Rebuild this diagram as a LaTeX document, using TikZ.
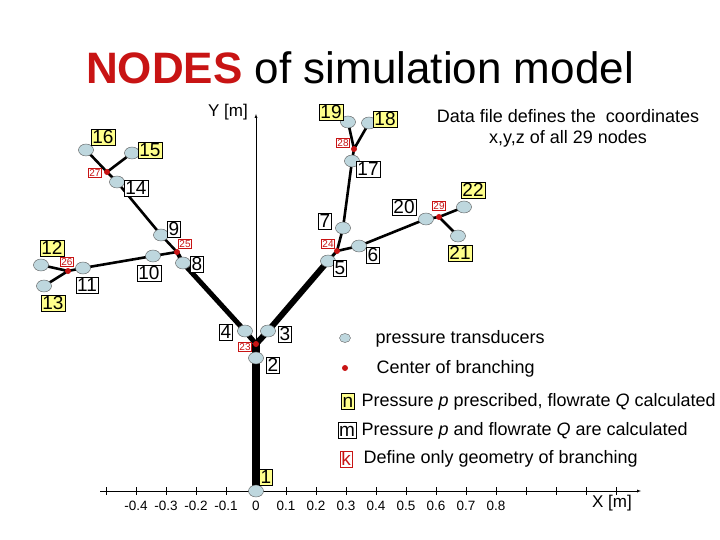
\documentclass[tikz,border=0pt]{standalone}
\usepackage{fontspec}
\setmainfont{Liberation Sans}
\usetikzlibrary{shapes.geometric}
\definecolor{tcol}{RGB}{190,215,222}
\definecolor{bred}{RGB}{200,20,20}
\definecolor{lyel}{RGB}{255,255,140}
\begin{document}
\begin{tikzpicture}[x=1pt,y=-1pt,
  tr/.style={ellipse,draw=gray!70!black,fill=tcol,minimum width=15pt,minimum height=12pt,inner sep=0pt},
  br/.style={circle,fill=bred,minimum size=6pt,inner sep=0pt},
  lm/.style={draw=black,fill=white,inner sep=1.2pt,font=\fontsize{19}{19}\selectfont,text depth=0pt,text height=13.5pt},
  ln/.style={lm,fill=lyel},
  lk/.style={draw=bred,fill=white,text=bred,inner sep=1pt,font=\fontsize{10}{10}\selectfont},
  pipe/.style={line width=#1},
  leg/.style={anchor=west,font=\fontsize{18}{18}\selectfont},
  tick/.style={font=\fontsize{13.5}{13.5}\selectfont}]
\useasboundingbox (0,0) rectangle (720,540);
% title
\node (title) at (360,68) {\fontsize{44}{44}\selectfont\textcolor{bred}{\textbf{NODES}} of simulation model};
\node (data) [align=center,font=\fontsize{18}{21}\selectfont] at (568,128) {Data file defines the\ \ coordinates\\x,y,z of all 29 nodes};
% axes
\coordinate (xs) at (100,491); \coordinate (xe) at (641,491);
\coordinate (ys) at (256,491); \coordinate (ye) at (256,114);
\draw[-latex] (xs) -- (xe);
\draw[-latex] (ys) -- (ye);
\node (ylab) [font=\fontsize{17}{17}\selectfont] at (228,112) {Y [m]};
\node (xlab) [font=\fontsize{17}{17}\selectfont] at (612,503) {X [m]};
\foreach \k/\t in {-4/-0.4,-3/-0.3,-2/-0.2,-1/-0.1,0/0,1/0.1,2/0.2,3/0.3,4/0.4,5/0.5,6/0.6,7/0.7,8/0.8}{
  \node[tick] (t\k) at (256+30*\k,506) {\t};}
\foreach \k in {-5,...,12}{
  \draw (256+30*\k,487) -- (256+30*\k,495);}
% node coordinates
\coordinate (p1) at (256,491);
\coordinate (p2) at (256,358);
\coordinate (p23) at (256,344);
\coordinate (p3) at (268,331);
\coordinate (p4) at (245,331);
\coordinate (p5) at (328,261);
\coordinate (p24) at (337,251);
\coordinate (p6) at (359,246);
\coordinate (p7) at (343,228);
\coordinate (p17) at (352,161);
\coordinate (p28) at (354,149);
\coordinate (p19) at (348,122);
\coordinate (p18) at (369,123);
\coordinate (p20) at (426,219);
\coordinate (p29) at (439,217);
\coordinate (p22) at (464,207);
\coordinate (p21) at (458,236);
\coordinate (p8) at (183,263);
\coordinate (p25) at (177,252);
\coordinate (p9) at (161,235);
\coordinate (p14) at (117,182);
\coordinate (p27) at (107,172);
\coordinate (p16) at (86,150);
\coordinate (p15) at (132,153);
\coordinate (p10) at (153,256);
\coordinate (p11) at (83,268);
\coordinate (p26) at (68,271);
\coordinate (p12) at (41,265);
\coordinate (p13) at (44,286);
% pipes
\draw[pipe=8pt] (p1) -- (p23);
\draw[pipe=6pt,line join=round] (p23) -- (p3) -- (p5);
\draw[pipe=5pt,line join=round] (p23) -- (p4) -- (p8);
\draw[pipe=4pt] (p8) -- (p25);
\draw[pipe=3pt] (p5) -- (p24);
\draw[pipe=2.6pt,line join=round] (p25) -- (p9) -- (p14) -- (p27);
\draw[pipe=2.6pt] (p27) -- (p16) (p27) -- (p15);
\draw[pipe=2.6pt,line join=round] (p25) -- (p10) -- (p11) -- (p26);
\draw[pipe=2.6pt] (p26) -- (p12) (p26) -- (p13);
\draw[pipe=2.6pt,line join=round] (p24) -- (p7) -- (p17) -- (p28);
\draw[pipe=2.6pt] (p28) -- (p19) (p28) -- (p18);
\draw[pipe=2.6pt,line join=round] (p24) -- (p6) -- (p20) -- (p29);
\draw[pipe=2.6pt] (p29) -- (p22) (p29) -- (p21);
% transducers
\foreach \n in {1,2,3,4,5,6,7,8,9,10,11,12,13,14,15,16,17,18,19,20,21,22}{
  \node[tr] (n\n) at (p\n) {};}
% branching centers
\foreach \n in {23,24,25,26,27,28,29}{
  \node[br] (n\n) at (p\n) {};}
% labels
\node[ln] (l1) at (266,477) {1};
\node[lm] (l2) at (273,365) {2};
\node[lm] (l3) at (285,334) {3};
\node[lm] (l4) at (226,332) {4};
\node[lm] (l5) at (340,268) {5};
\node[lm] (l6) at (373,255) {6};
\node[lm] (l7) at (325,221) {7};
\node[lm] (l8) at (197,264) {8};
\node[lm] (l9) at (174,229) {9};
\node[lm] (l10) at (149,273) {10};
\node[lm] (l11) at (87,285) {11};
\node[ln] (l12) at (52,248) {12};
\node[ln] (l13) at (53,303) {13};
\node[lm] (l14) at (136,188) {14};
\node[ln] (l15) at (150,150) {15};
\node[ln] (l16) at (103,137) {16};
\node[lm] (l17) at (368,169) {17};
\node[ln] (l18) at (385,119) {18};
\node[ln] (l19) at (331,112) {19};
\node[lm] (l20) at (404,207) {20};
\node[ln] (l21) at (460,253) {21};
\node[ln] (l22) at (473,190) {22};
\node[lk] (l23) at (245,347) {23};
\node[lk] (l24) at (328,244) {24};
\node[lk] (l25) at (185,244) {25};
\node[lk] (l26) at (67,262) {26};
\node[lk] (l27) at (95,173) {27};
\node[lk] (l28) at (343,143) {28};
\node[lk] (l29) at (439,206) {29};
% legend
\node[tr,minimum width=11pt,minimum height=9pt] (gt) at (345,338) {};
\node[leg] (gtt) at (372,339) {pressure transducers};
\node[br] (gb) at (345,368) {};
\node[leg] (gbt) at (373,369) {Center of branching};
\node[ln] (gn) at (348,401) {n};
\node[leg] (gnt) at (358,402) {Pressure \textit{p} prescribed, flowrate \textit{Q} calculated};
\node[lm] (gm) at (347,430) {m};
\node[leg] (gmt) at (358,431) {Pressure \textit{p} and flowrate \textit{Q} are calculated};
\node[lm,draw=bred,text=bred] (gk) at (346,459) {k};
\node[leg] (gkt) at (360,459) {Define only geometry of branching};
\end{tikzpicture}
\end{document}
